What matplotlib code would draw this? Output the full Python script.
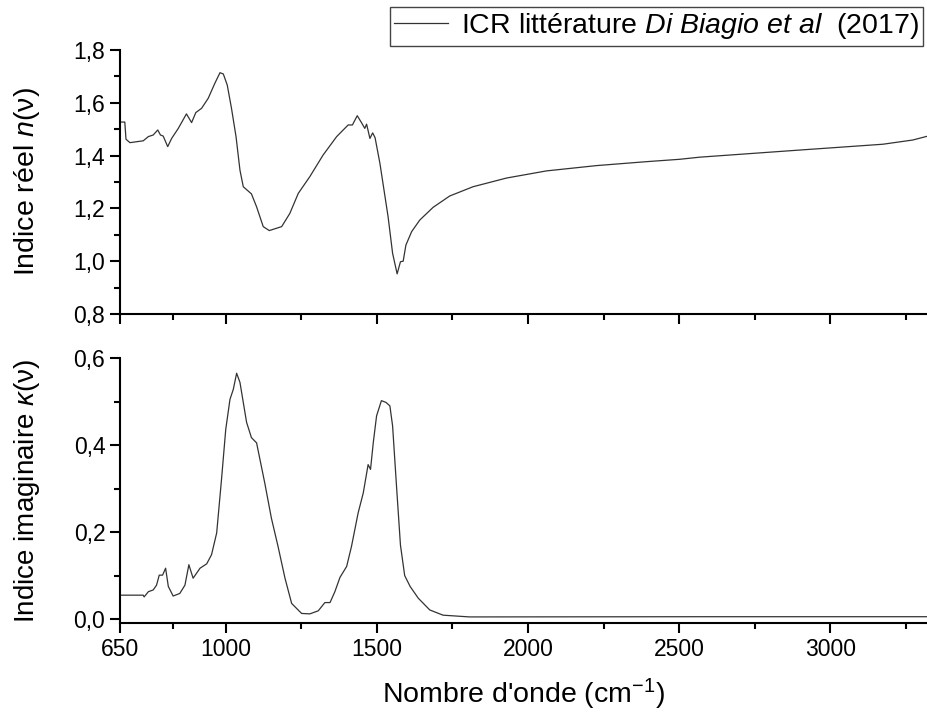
import matplotlib
matplotlib.use('Agg')
import matplotlib.pyplot as plt
from matplotlib.ticker import FixedLocator, FuncFormatter
from matplotlib.lines import Line2D

plt.rcParams['font.family'] = ['Liberation Sans', 'DejaVu Sans']
plt.rcParams['mathtext.fontset'] = 'custom'
plt.rcParams['mathtext.rm'] = 'Liberation Sans'
plt.rcParams['mathtext.it'] = 'Liberation Sans:italic'

wn_n = [650, 666, 670, 683, 727, 744, 760, 775, 784, 793, 808, 821, 843, 870,
        887, 901, 920, 942, 964, 981, 992, 1005, 1019, 1034, 1047, 1058, 1085,
        1102, 1124, 1144, 1185, 1212, 1240, 1278, 1322, 1367, 1405, 1419, 1435,
        1449, 1460, 1466, 1477, 1486, 1494, 1510, 1537, 1552, 1567, 1578, 1587,
        1596, 1615, 1642, 1686, 1741, 1818, 1929, 2061, 2226, 2392, 2502, 2568,
        2899, 3174, 3273, 3330]
n_val = [1.527, 1.527, 1.462, 1.449, 1.456, 1.472, 1.478, 1.497, 1.478, 1.474,
         1.434, 1.465, 1.503, 1.558, 1.525, 1.563, 1.579, 1.617, 1.674, 1.714,
         1.709, 1.667, 1.579, 1.472, 1.345, 1.282, 1.255, 1.206, 1.131, 1.116,
         1.131, 1.181, 1.257, 1.320, 1.402, 1.472, 1.516, 1.516, 1.551, 1.525,
         1.503, 1.519, 1.465, 1.486, 1.468, 1.371, 1.169, 1.030, 0.952, 0.998,
         1.000, 1.061, 1.112, 1.156, 1.204, 1.247, 1.282, 1.315, 1.342, 1.362,
         1.377, 1.386, 1.394, 1.421, 1.443, 1.459, 1.476]

# imaginary index kappa(nu)
wn_k = [650, 727, 730, 744, 760, 771, 780, 791, 801, 810, 826, 848, 865, 878,
        892, 915, 937, 953, 970, 986, 1000, 1014, 1025, 1036, 1047, 1069, 1085,
        1102, 1129, 1151, 1173, 1196, 1218, 1251, 1278, 1306, 1328, 1345, 1361,
        1378, 1400, 1416, 1438, 1455, 1471, 1479, 1488, 1499, 1515, 1530, 1543,
        1552, 1565, 1578, 1592, 1610, 1637, 1675, 1719, 1807, 2570, 3330]
k_val = [0.055, 0.055, 0.051, 0.063, 0.067, 0.078, 0.101, 0.101, 0.117, 0.075,
         0.053, 0.059, 0.078, 0.125, 0.094, 0.117, 0.127, 0.148, 0.198, 0.321,
         0.436, 0.505, 0.528, 0.565, 0.544, 0.452, 0.417, 0.405, 0.313, 0.232,
         0.167, 0.094, 0.036, 0.013, 0.012, 0.019, 0.038, 0.038, 0.063, 0.096,
         0.121, 0.167, 0.244, 0.290, 0.355, 0.344, 0.405, 0.467, 0.502, 0.498,
         0.490, 0.444, 0.305, 0.170, 0.100, 0.075, 0.048, 0.021, 0.009, 0.005,
         0.0055, 0.0055]

x_major = [650, 1000, 1500, 2000, 2500, 3000]
x_minor = [825, 1250, 1750, 2250, 2750, 3250]

comma = FuncFormatter(lambda v, p: f'{v:.1f}'.replace('.', ','))

fig = plt.figure(figsize=(9.27, 7.13), dpi=100)
ax1 = fig.add_axes([0.1294, 0.5596, 0.8706, 0.3703])
ax2 = fig.add_axes([0.1294, 0.1262, 0.8706, 0.3717])

ax1.plot(wn_n, n_val, color='#333333', lw=0.9)
ax2.plot(wn_k, k_val, color='#333333', lw=0.9)

for ax in (ax1, ax2):
    ax.set_xlim(650, 3320)
    ax.spines['top'].set_visible(False)
    ax.spines['right'].set_visible(False)
    for s in ('left', 'bottom'):
        ax.spines[s].set_linewidth(1.5)
    ax.xaxis.set_major_locator(FixedLocator(x_major))
    ax.xaxis.set_minor_locator(FixedLocator(x_minor))
    ax.tick_params(which='major', direction='out', length=7, width=1.5, labelsize=16.5)
    ax.tick_params(which='minor', direction='out', length=4, width=1.5)
    ax.yaxis.set_major_formatter(comma)

ax1.set_ylim(0.8, 1.8)
ax1.yaxis.set_major_locator(FixedLocator([0.8, 1.0, 1.2, 1.4, 1.6, 1.8]))
ax1.yaxis.set_minor_locator(FixedLocator([0.9, 1.1, 1.3, 1.5, 1.7]))
ax1.tick_params(axis='x', labelbottom=False)
ax1.set_ylabel('Indice réel $n$(ν)', fontsize=20.5)
ax1.yaxis.set_label_coords(-0.097, 0.5)

ax2.set_ylim(-0.009, 0.6)
ax2.yaxis.set_major_locator(FixedLocator([0.0, 0.2, 0.4, 0.6]))
ax2.yaxis.set_minor_locator(FixedLocator([0.1, 0.3, 0.5]))
ax2.set_ylabel(r'Indice imaginaire $\kappa$(ν)', fontsize=20)
ax2.yaxis.set_label_coords(-0.097, 0.5)
ax2.set_xlabel('Nombre d\'onde (cm$^{-1}$)', fontsize=20.5, labelpad=12)

handle = Line2D([], [], color='#333333', lw=0.9)
fig.legend([handle], [r'ICR littérature $Di\ Biagio\ et\ al$  (2017)'],
           loc='upper left', bbox_to_anchor=(390 / 927, 1 - 7 / 713),
           fontsize=20.5, frameon=True, fancybox=False, edgecolor='#444444',
           framealpha=1, handlelength=1.9, handletextpad=0.45,
           borderpad=0.15, borderaxespad=0)

fig.savefig('out.png', dpi=100)
